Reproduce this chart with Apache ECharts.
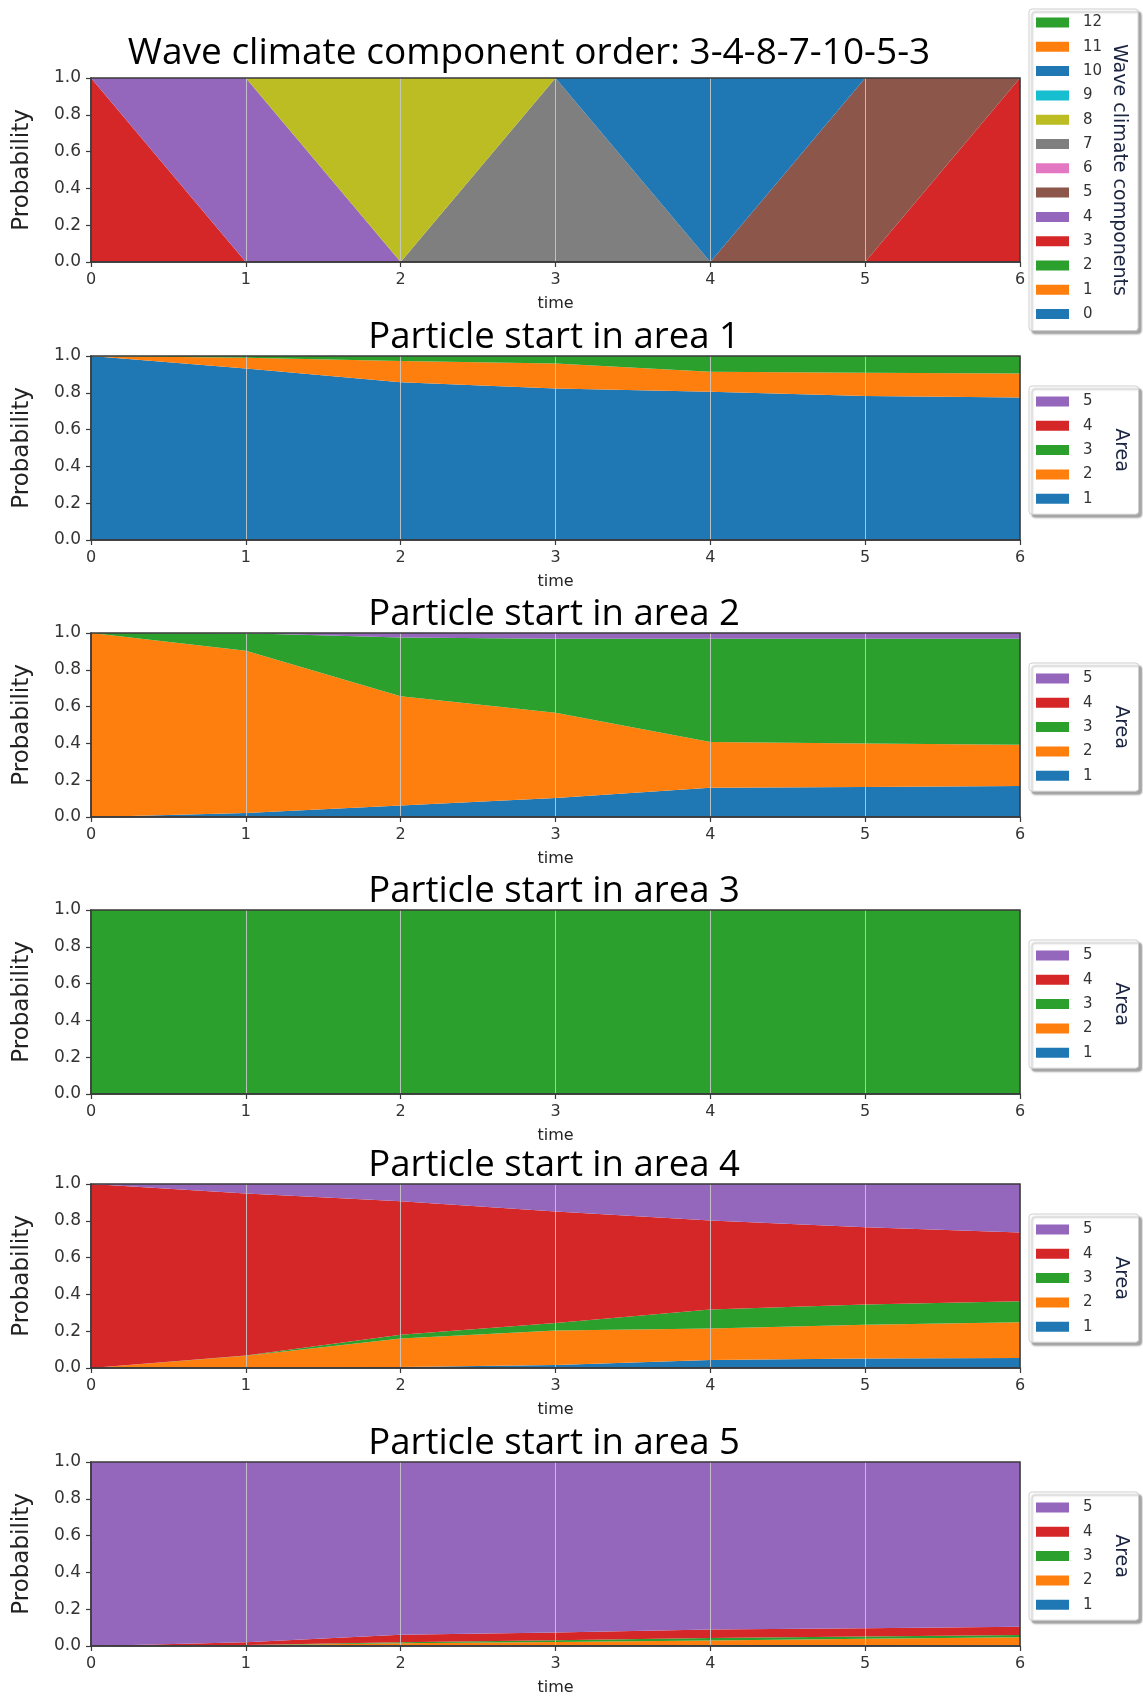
<!DOCTYPE html>
<html><head><meta charset="utf-8">
<script src="https://cdn.jsdelivr.net/npm/echarts@6/dist/echarts.min.js"></script>
<style>html,body{margin:0;padding:0;background:#fff}#c{width:1143px;height:1700px}</style>
</head><body><div id="c"></div>
<script>
// ---------- data ----------
const times = ['0', '1', '2', '3', '4', '5', '6'];
const yTicks = [0.0, 0.2, 0.4, 0.6, 0.8, 1.0];

// wave climate component probabilities (components 0..12)
const wave0  = [0, 0, 0, 0, 0, 0, 0];
const wave1  = [0, 0, 0, 0, 0, 0, 0];
const wave2  = [0, 0, 0, 0, 0, 0, 0];
const wave3  = [1, 0, 0, 0, 0, 0, 1];
const wave4  = [0, 1, 0, 0, 0, 0, 0];
const wave5  = [0, 0, 0, 0, 0, 1, 0];
const wave6  = [0, 0, 0, 0, 0, 0, 0];
const wave7  = [0, 0, 0, 1, 0, 0, 0];
const wave8  = [0, 0, 1, 0, 0, 0, 0];
const wave9  = [0, 0, 0, 0, 0, 0, 0];
const wave10 = [0, 0, 0, 0, 1, 0, 0];
const wave11 = [0, 0, 0, 0, 0, 0, 0];
const wave12 = [0, 0, 0, 0, 0, 0, 0];
const waveNames = ['0','1','2','3','4','5','6','7','8','9','10','11','12'];

// particle start in area 1
const s1_a1 = [1.0, 0.932, 0.857, 0.824, 0.806, 0.783, 0.774];
const s1_a2 = [0, 0.059, 0.116, 0.135, 0.108, 0.126, 0.131];
const s1_a3 = [0, 0.009, 0.027, 0.041, 0.086, 0.091, 0.095];
const s1_a4 = [0, 0, 0, 0, 0, 0, 0];
const s1_a5 = [0, 0, 0, 0, 0, 0, 0];
// particle start in area 2
const s2_a1 = [0, 0.022, 0.063, 0.103, 0.159, 0.163, 0.168];
const s2_a2 = [1.0, 0.882, 0.593, 0.463, 0.248, 0.237, 0.224];
const s2_a3 = [0, 0.094, 0.32, 0.403, 0.562, 0.569, 0.577];
const s2_a4 = [0, 0, 0, 0, 0, 0, 0];
const s2_a5 = [0, 0.002, 0.024, 0.031, 0.031, 0.031, 0.031];
// particle start in area 3
const s3_a1 = [0, 0, 0, 0, 0, 0, 0];
const s3_a2 = [0, 0, 0, 0, 0, 0, 0];
const s3_a3 = [1, 1, 1, 1, 1, 1, 1];
const s3_a4 = [0, 0, 0, 0, 0, 0, 0];
const s3_a5 = [0, 0, 0, 0, 0, 0, 0];
// particle start in area 4
const s4_a1 = [0, 0.001, 0.005, 0.016, 0.043, 0.051, 0.054];
const s4_a2 = [0, 0.066, 0.156, 0.188, 0.172, 0.184, 0.195];
const s4_a3 = [0, 0.001, 0.02, 0.041, 0.103, 0.11, 0.114];
const s4_a4 = [1.0, 0.881, 0.725, 0.605, 0.483, 0.42, 0.373];
const s4_a5 = [0, 0.051, 0.094, 0.15, 0.199, 0.235, 0.264];
// particle start in area 5
const s5_a1 = [0, 0.001, 0.003, 0.004, 0.005, 0.006, 0.006];
const s5_a2 = [0, 0.003, 0.012, 0.018, 0.025, 0.034, 0.041];
const s5_a3 = [0, 0.001, 0.005, 0.009, 0.013, 0.012, 0.013];
const s5_a4 = [0, 0.015, 0.041, 0.043, 0.047, 0.045, 0.045];
const s5_a5 = [1.0, 0.98, 0.939, 0.926, 0.91, 0.903, 0.895];
const areaNames = ['1', '2', '3', '4', '5'];

const mainTitle = 'Wave climate component order: 3-4-8-7-10-5-3';
const panelTitles = ['Particle start in area 1', 'Particle start in area 2', 'Particle start in area 3',
                     'Particle start in area 4', 'Particle start in area 5'];

// ---------- styling / layout ----------
const tab10 = ['#1f77b4','#ff7f0e','#2ca02c','#d62728','#9467bd','#8c564b','#e377c2','#7f7f7f','#bcbd22','#17becf'];
const waveSets = [wave0,wave1,wave2,wave3,wave4,wave5,wave6,wave7,wave8,wave9,wave10,wave11,wave12];
const areaSets = [
  [s1_a1,s1_a2,s1_a3,s1_a4,s1_a5],
  [s2_a1,s2_a2,s2_a3,s2_a4,s2_a5],
  [s3_a1,s3_a2,s3_a3,s3_a4,s3_a5],
  [s4_a1,s4_a2,s4_a3,s4_a4,s4_a5],
  [s5_a1,s5_a2,s5_a3,s5_a4,s5_a5]
];
const panelTops = [78, 356, 633, 910, 1184, 1462];
const GL = 91, GW = 929, GH = 184;
const TICKFONT = 'DejaVu Sans';

const grids = [], xAxes = [], yAxes = [], series = [], legends = [], titles = [], graphics = [];

function addPanel(i) {
  const top = panelTops[i];
  grids.push({left: GL, top: top, width: GW, height: GH, show: true, z: 6,
    backgroundColor: 'rgba(0,0,0,0)', borderColor: '#3a3a3a', borderWidth: 1.5});
  xAxes.push({type: 'category', gridIndex: i, data: times, boundaryGap: false, z: 5,
    name: 'time', nameLocation: 'middle', nameGap: 34,
    nameTextStyle: {fontFamily: TICKFONT, fontSize: 16, color: '#222'},
    axisLine: {show: true, onZero: false, lineStyle: {color: '#3a3a3a', width: 1.5}},
    axisTick: {show: true, length: 5, alignWithLabel: true, lineStyle: {color: '#3a3a3a', width: 1.2}},
    axisLabel: {fontFamily: TICKFONT, fontSize: 16, color: '#333', margin: 10},
    splitLine: {show: true, lineStyle: {color: 'rgba(200,200,200,0.9)', width: 1}}});
  yAxes.push({type: 'value', gridIndex: i, min: yTicks[0], max: yTicks[yTicks.length-1], interval: 0.2, z: 5,
    name: 'Probability', nameLocation: 'middle', nameGap: 57, nameRotate: 90,
    nameTextStyle: {fontFamily: TICKFONT, fontSize: 23, color: '#222'},
    axisLine: {show: true, onZero: false, lineStyle: {color: '#3a3a3a', width: 1.5}},
    axisTick: {show: true, length: 5, lineStyle: {color: '#3a3a3a', width: 1.2}},
    axisLabel: {fontFamily: TICKFONT, fontSize: 17, color: '#333', margin: 10,
      formatter: v => v.toFixed(1)},
    splitLine: {show: false}});
}

function stackSeries(i, name, color, vals) {
  series.push({type: 'line', name: name, xAxisIndex: i, yAxisIndex: i, stack: 'p' + i,
    data: vals.slice(), symbol: 'none', silent: true, animation: false,
    color: color, itemStyle: {color: color},
    lineStyle: {width: 0, color: color}, areaStyle: {color: color, opacity: 1}});
}

function legendBox(i, names, colors, prefix, padRight) {
  const top = i === 0 ? 9 : panelTops[i] + 30;
  legends.push({orient: 'vertical', left: 1029, top: top, icon: 'rect',
    itemWidth: 33, itemHeight: 10, itemGap: 9.3,
    padding: i === 0 ? [6, padRight, 9, 7] : [8, padRight, 8, 7],
    backgroundColor: '#fff', borderColor: '#cfcfcf', borderWidth: 1, borderRadius: 3,
    shadowBlur: 2, shadowOffsetX: 3, shadowOffsetY: 3, shadowColor: 'rgba(0,0,0,0.35)',
    selectedMode: false,
    textStyle: {fontFamily: TICKFONT, fontSize: 15, color: '#333', lineHeight: 14, padding: [0, 0, 0, 9]},
    formatter: n => n.replace(prefix, ''),
    data: names.slice().reverse().map((n, k) => ({name: prefix + n,
      itemStyle: {color: colors[names.length - 1 - k]}}))});
}

// panel 0: wave climate components
addPanel(0);
waveSets.forEach((vals, k) => stackSeries(0, 'w' + waveNames[k], tab10[k % 10], vals));
legendBox(0, waveNames, waveNames.map((n, k) => tab10[k % 10]), 'w', 36);
titles.push({text: mainTitle, left: 524, textAlign: 'center', top: 30,
  textStyle: {fontFamily: 'Open Sans', fontSize: 37, fontWeight: 'normal', color: '#000'}});
graphics.push({type: 'text', x: 1119, y: 170, rotation: -Math.PI / 2, silent: true,
  style: {text: 'Wave climate components', font: '19px "DejaVu Sans"', fill: '#1b2440',
    textAlign: 'center', textVerticalAlign: 'middle'}});

// panels 1..5
for (let p = 0; p < 5; p++) {
  const i = p + 1;
  addPanel(i);
  areaSets[p].forEach((vals, k) => stackSeries(i, 'a' + areaNames[k], tab10[k], vals));
  legendBox(i, areaNames, areaNames.map((n, k) => tab10[k]), 'a', 46);
  titles.push({text: panelTitles[p], left: 549, textAlign: 'center', top: panelTops[i] - 42,
    textStyle: {fontFamily: 'Open Sans', fontSize: 36.5, fontWeight: 'normal', color: '#000'}});
  graphics.push({type: 'text', x: 1121, y: panelTops[i] + 94, rotation: -Math.PI / 2, silent: true,
    style: {text: 'Area', font: '19px "DejaVu Sans"', fill: '#1b2440',
      textAlign: 'center', textVerticalAlign: 'middle'}});
}

const chart = echarts.init(document.getElementById('c'), null, {renderer: 'canvas'});
chart.setOption({
  animation: false,
  backgroundColor: '#fff',
  title: titles,
  grid: grids,
  xAxis: xAxes,
  yAxis: yAxes,
  legend: legends,
  series: series,
  graphic: {elements: graphics.map(g => Object.assign({z: 100}, g))}
});
</script></body></html>
